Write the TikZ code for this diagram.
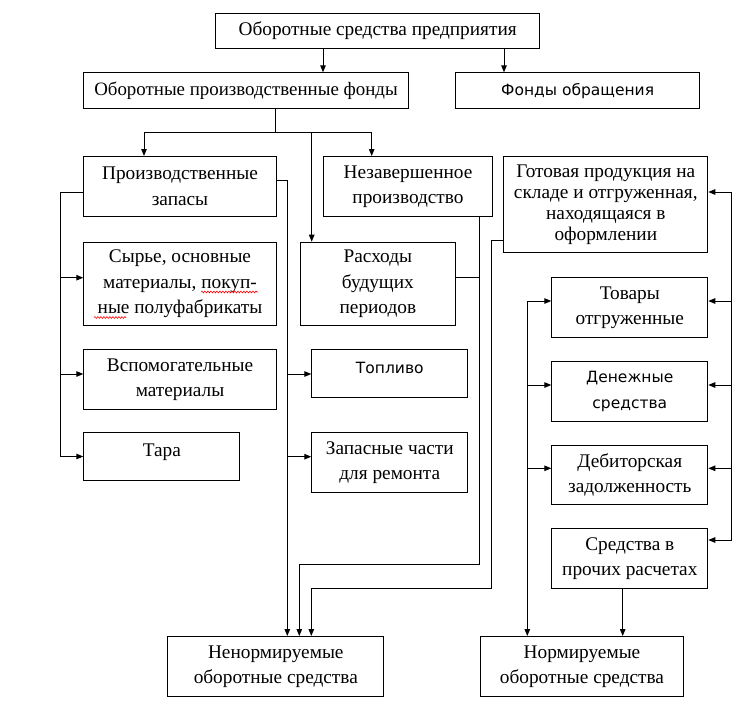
\documentclass[tikz,border=0pt]{standalone}
\usepackage{fontspec}
\setmainfont{Liberation Serif}
\newfontfamily\sansf{DejaVu Sans}
\usetikzlibrary{arrows.meta,decorations.pathmorphing}
\begin{document}
\begin{tikzpicture}[x=1pt,y=-1pt,
  box/.style={draw, line width=1pt, inner sep=0pt, anchor=north west, align=center,
    font=\fontsize{19.3}{25.5}\selectfont},
  tight/.style={font=\fontsize{19.3}{21}\selectfont},
  sbox/.style={box, font=\sansf\fontsize{15.5}{25.5}\selectfont},
  link/.style={line width=1pt},
  arr/.style={link, -{Triangle[length=7pt,width=5.5pt]}},
  spell/.style={red, line width=0.6pt, decorate, decoration={snake, amplitude=0.9pt, segment length=3pt}}]
\useasboundingbox (0,0) rectangle (740,710);
% nodes
\node[box, minimum width=324.3pt, minimum height=35.6pt] (top) at (215,12.7) {Оборотные средства предприятия};
\node[box, font=\fontsize{18.9}{21}\selectfont, minimum width=324.4pt, minimum height=36pt] (opf) at (83.3,72.3) {Оборотные производственные фонды};
\node[sbox, minimum width=244.3pt, minimum height=36pt] (fo) at (455,72.3) {Фонды обращения};
\node[box, minimum width=192.4pt, minimum height=60pt] (pz) at (83.3,156) {Производственные\\запасы};
\node[box, minimum width=168.4pt, minimum height=60pt] (np) at (323.3,156) {Незавершенное\\производство};
\node[box, tight, minimum width=204pt, minimum height=95.7pt] (got) at (503.3,156.3) {Готовая продукция на\\складе и отгруженная,\\находящаяся в\\оформлении};
\node[box, minimum width=192.4pt, minimum height=83.6pt] (syr) at (83.3,241.7) {Сырье, основные\\материалы, покуп-\\ные полуфабрикаты};
\node[box, minimum width=155.8pt, minimum height=83.6pt] (ras) at (299.5,241.7) {Расходы\\будущих\\периодов};
\node[box, minimum width=192.4pt, minimum height=60pt] (vsp) at (83.3,349.3) {Вспомогательные\\материалы};
\node[sbox, minimum width=156pt, minimum height=48pt] (fuel) at (311.3,349.3) {\smash{Топливо}};
\node[box, minimum width=156pt, minimum height=48pt] (tara) at (83.3,432) {\smash{Тара}};
\node[box, minimum width=156pt, minimum height=60.3pt] (zap) at (311.3,432) {Запасные части\\для ремонта};
\node[box, minimum width=156pt, minimum height=59.7pt] (tov) at (551.3,277.3) {Товары\\отгруженные};
\node[sbox, minimum width=156pt, minimum height=59.7pt] (den) at (551.3,361.3) {Денежные\\средства};
\node[box, minimum width=156pt, minimum height=59.3pt] (deb) at (551.3,444.7) {Дебиторская\\задолженность};
\node[box, minimum width=156pt, minimum height=60pt] (spr) at (551.3,528.3) {Средства в\\прочих расчетах};
\node[box, minimum width=216pt, minimum height=60pt] (nn) at (167.3,636) {Ненормируемые\\оборотные средства};
\node[box, minimum width=203.6pt, minimum height=60pt] (nr) at (479.7,636) {Нормируемые\\оборотные средства};
% connectors
\draw[arr] (323,0 |- top.south) -- (323,0 |- opf.north);
\draw[arr] (504,0 |- top.south) -- (504,0 |- fo.north);
\coordinate (br) at (275.7,132.3);
\draw[link] (br |- opf.south) -- (br);
\draw[arr] (br) -| (144,0 |- pz.north);
\draw[arr] (br) -| (371.7,0 |- np.north);
\draw[arr] (311.7,0 |- br) -- (311.7,0 |- ras.north);
\draw[arr] (pz.west |- 0,192.3) -- (60,192.3) |- (tara.west);
\draw[arr] (60,277.7) -- (syr.west |- 0,277.7);
\draw[arr] (60,374) -- (vsp.west |- 0,374);
\draw[arr] (pz.east |- 0,180.7) -| (287.3,0 |- nn.north);
\draw[arr] (287.3,374) -- (fuel.west |- 0,374);
\draw[arr] (287.3,456.7) -- (zap.west |- 0,456.7);
\draw[arr] (479.3,0 |- np.south) -- (479.3,564.3) -| (299.3,0 |- nn.north);
\draw[link] (ras.east |- 0,277.3) -- (479.3,277.3);
\draw[arr] (got.west |- 0,240) -| (491.7,588.3) -| (311.3,0 |- nn.north);
\draw[link] (731.7,192) -- (731.7,540);
\draw[arr] (731.7,192) -- (got.east |- 0,192);
\draw[arr] (731.7,301) -- (tov.east |- 0,301);
\draw[arr] (731.7,385) -- (den.east |- 0,385);
\draw[arr] (731.7,468.3) -- (deb.east |- 0,468.3);
\draw[arr] (731.7,540) -- (spr.east |- 0,540);
\draw[arr] (527.3,301) -- (527.3,0 |- nr.north);
\draw[arr] (527.3,301) -- (tov.west |- 0,301);
\draw[arr] (527.3,385) -- (den.west |- 0,385);
\draw[arr] (527.3,468.3) -- (deb.west |- 0,468.3);
\draw[arr] (622.7,0 |- spr.south) -- (622.7,0 |- nr.north);
% spell-check marks
\draw[spell] (201,292) -- (258,292);
\draw[spell] (94,317.5) -- (126,317.5);
\end{tikzpicture}
\end{document}
